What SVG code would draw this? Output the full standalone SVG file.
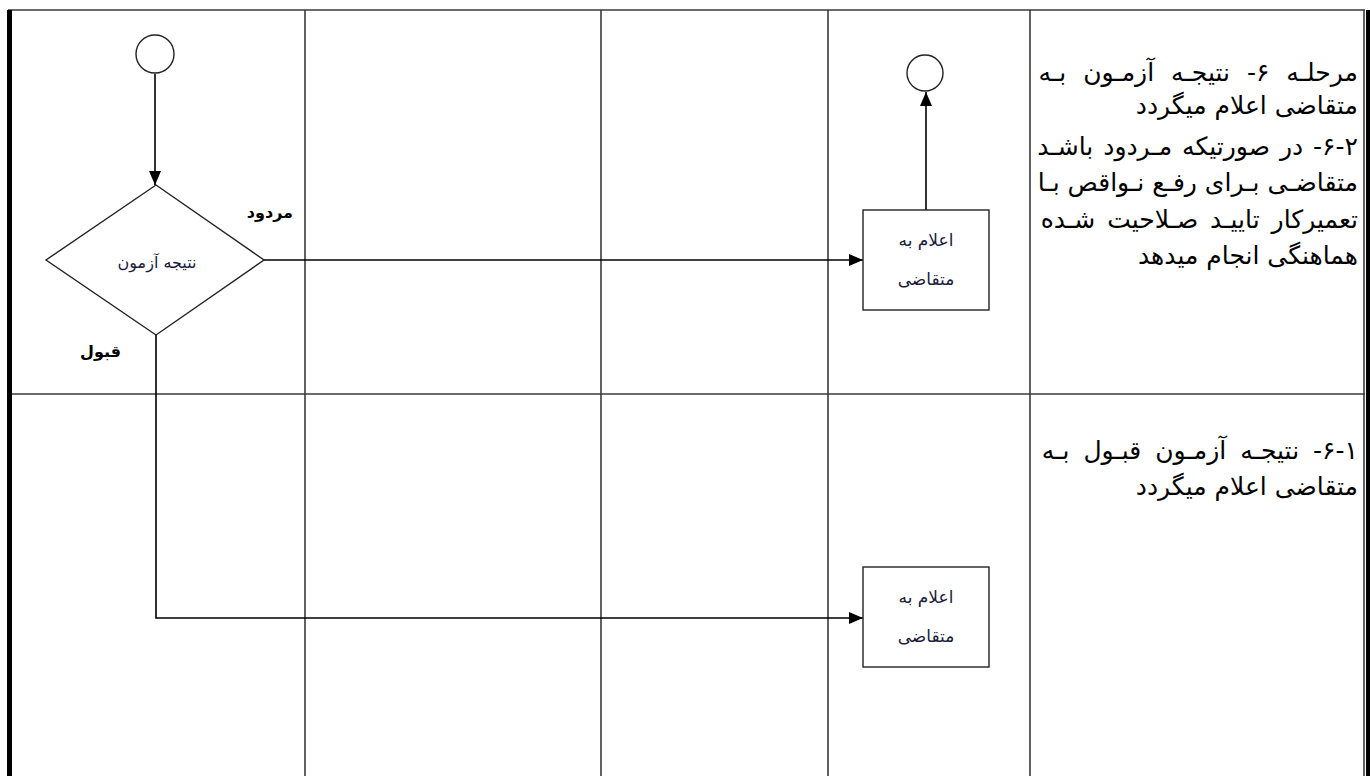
<svg xmlns="http://www.w3.org/2000/svg" width="1370" height="776" viewBox="0 0 1370 776">
<style>
.grid{stroke:#3a3a3a;stroke-width:1.6;fill:none}
.shape{stroke:#222;stroke-width:1.4;fill:#fff}
.conn{stroke:#000;stroke-width:1.6;fill:none}
.t{font-family:"DejaVu Sans",sans-serif;fill:#000}
.node{font-size:16px;fill:#1a1a3a}
.box{font-size:17px}
.lbl{font-size:16px;font-weight:bold}
.desc{font-size:25px}
</style>
<defs>
<marker id="arrL" viewBox="0 0 14 12" refX="14" refY="6" markerWidth="14" markerHeight="12" markerUnits="userSpaceOnUse" orient="auto">
<path d="M0,0 L14,6 L0,12 z" fill="#000"/>
</marker>
</defs>
<rect width="1370" height="776" fill="#fff"/>
<g id="lanes">
<line class="grid" x1="8" y1="10" x2="1365" y2="10"/>
<line class="grid" x1="8" y1="394" x2="1365" y2="394"/>
<line class="grid" x1="305" y1="10" x2="305" y2="776"/>
<line class="grid" x1="601" y1="10" x2="601" y2="776"/>
<line class="grid" x1="828" y1="10" x2="828" y2="776"/>
<line class="grid" x1="1030" y1="10" x2="1030" y2="776"/>
<line class="grid" x1="1364" y1="10" x2="1364" y2="776"/>
<rect x="7" y="10" width="5" height="766" fill="#000"/>
<rect x="1366" y="10" width="4" height="766" fill="#000"/>
</g>
<g id="connectors">
<line class="conn" x1="155" y1="74" x2="155" y2="185" marker-end="url(#arrL)"/>
<line class="conn" x1="264" y1="260" x2="863" y2="260" marker-end="url(#arrL)"/>
<line class="conn" x1="926" y1="210" x2="926" y2="92" marker-end="url(#arrL)"/>
<polyline class="conn" points="156,335 156,618 863,618" marker-end="url(#arrL)"/>
</g>
<g id="start">
<circle class="shape" cx="155" cy="54" r="19"/>
</g>
<g id="decision">
<polygon class="shape" points="156,185 264,260 156,335 46,260"/>
<text class="t node" x="157" y="268" text-anchor="middle">نتیجه آزمون</text>
</g>
<g id="label-rejected">
<text class="t lbl" x="293" y="218" text-anchor="end">مردود</text>
</g>
<g id="label-accepted">
<text class="t lbl" x="121" y="357" text-anchor="end">قبول</text>
</g>
<g id="notify1">
<rect class="shape" x="863" y="210" width="126" height="100"/>
<text class="t node box" x="926" y="246" text-anchor="middle">اعلام به</text>
<text class="t node box" x="926" y="285" text-anchor="middle">متقاضی</text>
</g>
<g id="end">
<circle class="shape" cx="925" cy="73" r="18"/>
</g>
<g id="notify2">
<rect class="shape" x="863" y="567" width="126" height="100"/>
<text class="t node box" x="926" y="603" text-anchor="middle">اعلام به</text>
<text class="t node box" x="926" y="642" text-anchor="middle">متقاضی</text>
</g>
<g id="desc-top">
<text class="t desc" x="1358" y="81" text-anchor="start" direction="rtl" word-spacing="9">مرحلـه ۶&#x200F;-  نتیجـه آزمـون بـه</text>
<text class="t desc" x="1358" y="114" text-anchor="start" direction="rtl">متقاضی اعلام میگردد</text>
<text class="t desc" x="1358" y="155" text-anchor="start" direction="rtl" word-spacing="2">۲&#x200F;-۶&#x200F;- در صورتیکه مـردود باشـد</text>
<text class="t desc" x="1358" y="191" text-anchor="start" direction="rtl">متقاضـی بـرای رفـع نـواقص بـا</text>
<text class="t desc" x="1358" y="228" text-anchor="start" direction="rtl" word-spacing="4">تعمیرکار تاییـد صـلاحیت شـده</text>
<text class="t desc" x="1358" y="264" text-anchor="start" direction="rtl">هماهنگی انجام میدهد</text>
</g>
<g id="desc-bottom">
<text class="t desc" x="1358" y="459" text-anchor="start" direction="rtl" word-spacing="6">۱&#x200F;-۶&#x200F;- نتیجـه آزمـون قبـول بـه</text>
<text class="t desc" x="1358" y="495" text-anchor="start" direction="rtl">متقاضی اعلام میگردد</text>
</g>
</svg>
